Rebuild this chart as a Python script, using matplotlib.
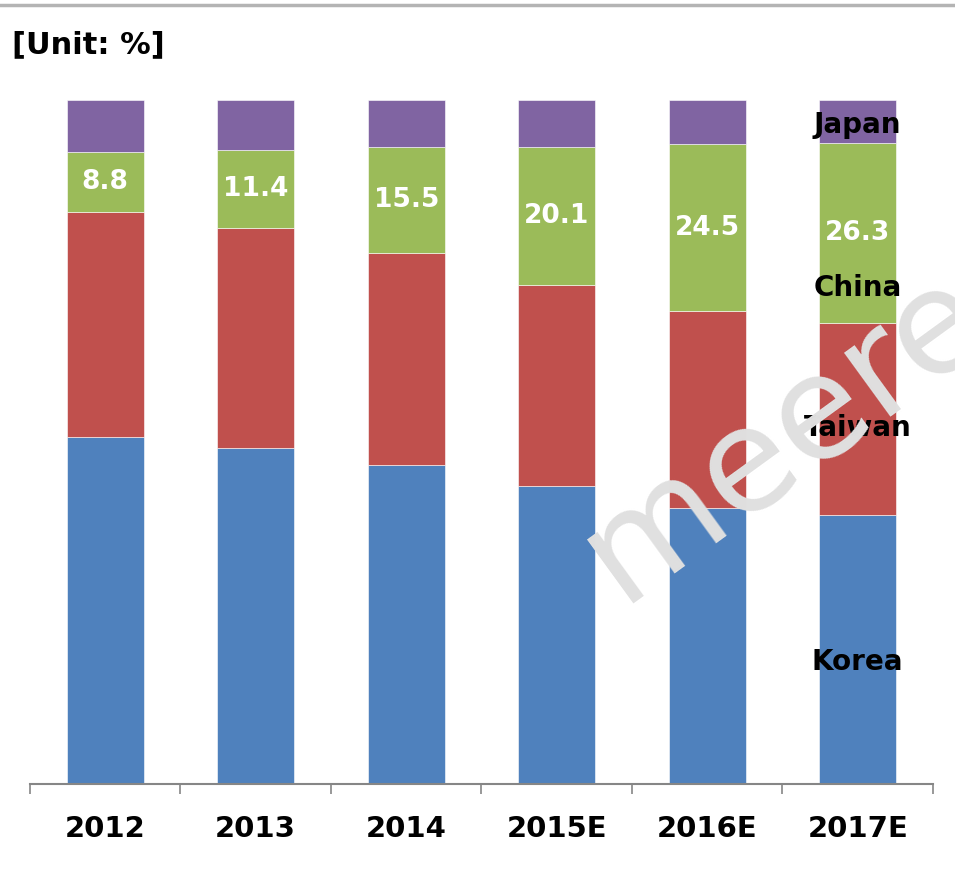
import matplotlib
matplotlib.use('Agg')
import matplotlib.pyplot as plt
from matplotlib.lines import Line2D
import numpy as np

# data (share of each country, %)
years = ['2012', '2013', '2014', '2015E', '2016E', '2017E']
korea = [50.7, 49.1, 46.7, 43.5, 40.3, 39.4]
taiwan = [32.9, 32.2, 30.9, 29.5, 28.8, 28.0]
china = [8.8, 11.4, 15.5, 20.1, 24.5, 26.3]
japan = [7.6, 7.3, 6.9, 6.9, 6.4, 6.3]
series_names = ['Korea', 'Taiwan', 'China', 'Japan']
colors = ['#4F81BD', '#C0504D', '#9BBB59', '#8064A2']

plt.rcParams['font.family'] = ['DejaVu Sans']

fig = plt.figure(figsize=(9.55, 8.83), dpi=100)
ax = fig.add_axes([0.0314, 0.1121, 0.9455, 0.7746])

x = np.arange(len(years))
bottom = np.zeros(len(years))
for vals, col in zip([korea, taiwan, china, japan], colors):
    ax.bar(x, vals, width=0.51, bottom=bottom, color=col, edgecolor='white', linewidth=0.4, zorder=2)
    bottom = bottom + np.array(vals)

# value labels on China segment
china_bottom = np.array(korea) + np.array(taiwan)
for i, v in enumerate(china):
    ax.text(x[i], china_bottom[i] + v / 2, f'{v:.1f}', ha='center', va='center',
            color='white', fontsize=19, fontweight='bold', zorder=3)

# series names on last bar
label_y = {'Korea': 17.8, 'Taiwan': 52.0, 'China': 72.5, 'Japan': 96.3}
for name in series_names:
    z = 6 if name in ('China', 'Japan') else 3
    ax.text(x[-1], label_y[name], name, ha='center', va='center',
            color='black', fontsize=20, fontweight='bold', zorder=z)

ax.set_xlim(-0.5, len(years) - 0.5)
ax.set_ylim(0, 100)
ax.set_yticks([])
for s in ['top', 'right', 'left']:
    ax.spines[s].set_visible(False)
ax.spines['bottom'].set_color('#868686')
ax.spines['bottom'].set_linewidth(1.5)

ax.set_xticks(x)
ax.set_xticklabels(years, fontsize=21, fontweight='bold')
ax.tick_params(axis='x', which='major', length=0, pad=22)
ax.set_xticks(np.arange(-0.5, len(years)), minor=True)
ax.tick_params(axis='x', which='minor', length=7, width=1.2, color='#868686', direction='out')

fig.text(0.013, 0.949, '[Unit: %]', fontsize=22, fontweight='bold', ha='left', va='center')

# top rule
fig.add_artist(Line2D([0, 1], [0.994, 0.994], color='#b4b4b4', linewidth=2.5))

# watermark
ax.text(0.822, 0.508, 'meere', fontsize=104, color='#e0e0e0', rotation=36,
        ha='center', va='center', zorder=4, transform=fig.transFigure, clip_on=False)

fig.savefig('out.png', dpi=100)
